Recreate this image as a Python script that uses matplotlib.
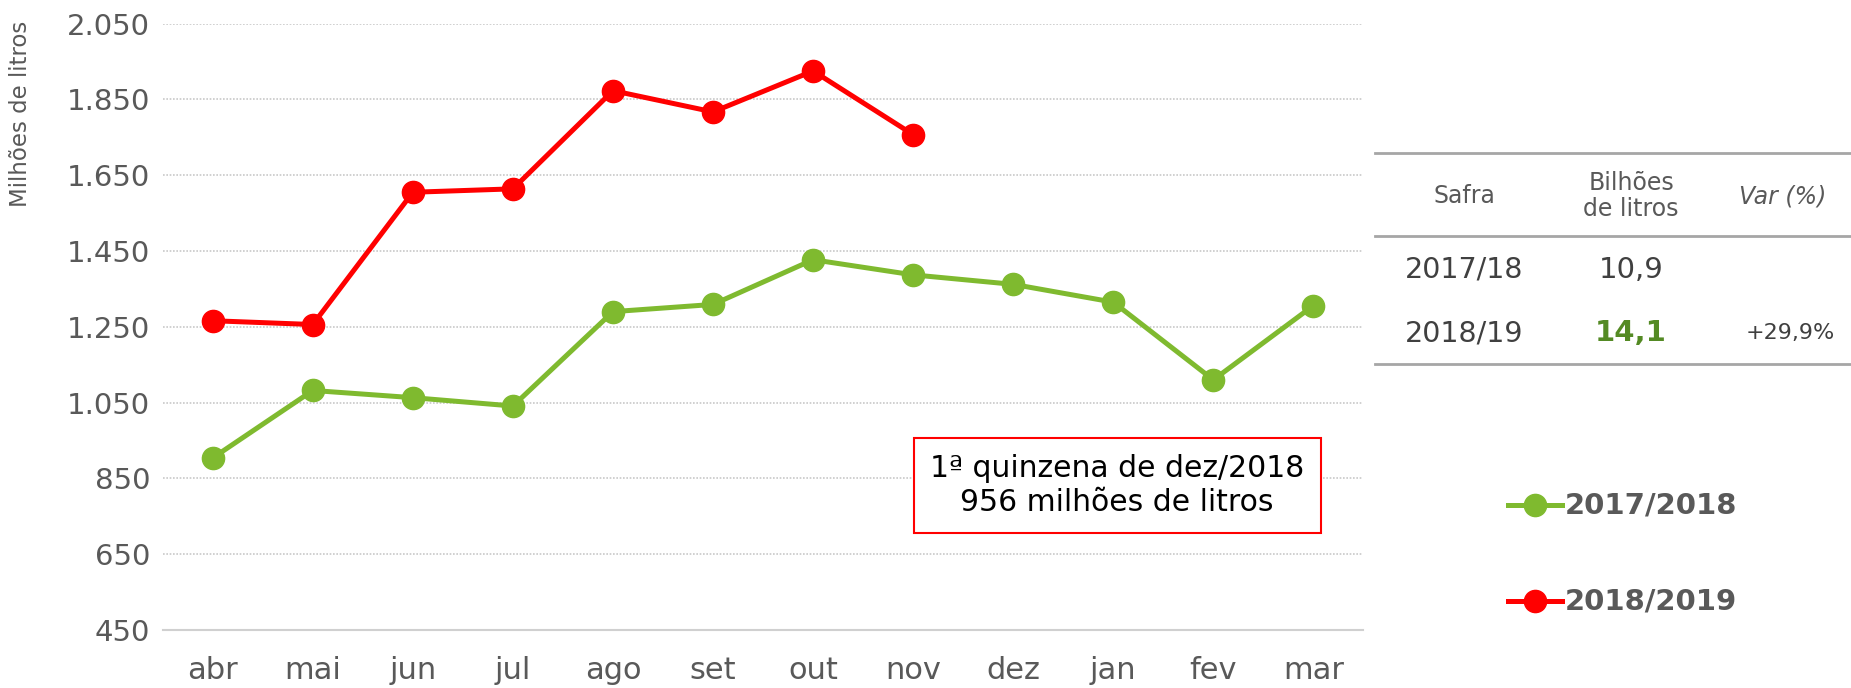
import matplotlib.pyplot as plt
from matplotlib.lines import Line2D

# Monthly production (millions of litres)
months = ['abr', 'mai', 'jun', 'jul', 'ago', 'set', 'out', 'nov', 'dez', 'jan', 'fev', 'mar']
safra_1718 = [904, 1082, 1063, 1041, 1290, 1309, 1427, 1387, 1362, 1315, 1110, 1306]
safra_1819 = [1266, 1256, 1605, 1614, 1873, 1817, 1925, 1757]
yticks = [450, 650, 850, 1050, 1250, 1450, 1650, 1850, 2050]

# Summary table
table_header = ['Safra', 'Bilhões\nde litros', 'Var (%)']
table_safra = ['2017/18', '2018/19']
table_total = ['10,9', '14,1']
table_var = ['', '+29,9%']

GREEN = '#7fba2f'
RED = '#ff0000'
GRAY = '#595959'

plt.rcParams['font.family'] = ['DejaVu Sans']

fig = plt.figure(figsize=(18.51, 6.88), dpi=100)
ax = fig.add_axes([0.0879, 0.0843, 0.6487, 0.8814])

x = range(len(months))
ax.plot(x, safra_1718, color=GREEN, lw=3.6, marker='o', ms=16, label='2017/2018')
ax.plot(range(len(safra_1819)), safra_1819, color=RED, lw=3.6, marker='o', ms=16, label='2018/2019')

ax.set_xlim(-0.5, len(months) - 0.5)
ax.set_ylim(450, 2050)
ax.set_yticks(yticks)
ax.set_yticklabels([f'{v:,}'.replace(',', '.') for v in yticks])
ax.set_xticks(list(x))
ax.set_xticklabels(months)
ax.tick_params(axis='both', length=0, labelsize=21, labelcolor=GRAY)
ax.tick_params(axis='y', pad=9)
ax.tick_params(axis='x', labelsize=22, pad=19)
for v in yticks[1:]:
    ax.axhline(v, color='#c8c8c8', lw=1.2, ls=(0, (1, 1)), zorder=0)
for s in ['top', 'right', 'left']:
    ax.spines[s].set_visible(False)
ax.spines['bottom'].set_color('#d0d0d0')
ax.spines['bottom'].set_linewidth(1.5)

fig.text(0.0113, 0.834, 'Milhões de litros', rotation=90, ha='center', va='center',
         fontsize=16.5, color=GRAY)

# Annotation box
fig.text(0.6035, 0.294, '1ª quinzena de dez/2018\n956 milhões de litros', ha='center', va='center',
         fontsize=21.5, color='black', linespacing=1.2,
         bbox=dict(boxstyle='square,pad=0.55', fc='white', ec=RED, lw=1.5))

# Summary table
W, H = 1851, 688
for yl in [153, 236, 364]:
    fig.add_artist(Line2D([1375 / W, 1], [1 - yl / H, 1 - yl / H], color='#a6a6a6', lw=2))
col_x = [1464 / W, 1631 / W, 1783 / W]
head_y = 1 - 196 / H
fig.text(col_x[0], head_y, table_header[0], ha='center', va='center', fontsize=17, color=GRAY)
fig.text(col_x[1], head_y, table_header[1], ha='center', va='center', fontsize=17, color=GRAY,
         linespacing=1.15)
fig.text(col_x[2], head_y, table_header[2], ha='center', va='center', fontsize=17, color=GRAY,
         style='italic')
for i, ry in enumerate([270, 333]):
    yy = 1 - ry / H
    fig.text(col_x[0], yy, table_safra[i], ha='center', va='center', fontsize=20.5, color='#404040')
    if i == 1:
        fig.text(col_x[1], yy, table_total[i], ha='center', va='center', fontsize=21,
                 color='#548a24', fontweight='bold')
    else:
        fig.text(col_x[1], yy, table_total[i], ha='center', va='center', fontsize=21, color='#404040')
    fig.text(1790 / W, yy, table_var[i], ha='center', va='center', fontsize=16, color='#404040')

# Legend
for lbl, col, ly in [('2017/2018', GREEN, 505), ('2018/2019', RED, 601)]:
    yy = 1 - ly / H
    fig.add_artist(Line2D([1508 / W, 1562 / W], [yy, yy], color=col, lw=3.6))
    fig.add_artist(Line2D([1535 / W], [yy], color=col, marker='o', ms=16))
    fig.text(1565 / W, yy, lbl, ha='left', va='center', fontsize=21, fontweight='bold', color=GRAY)

fig.savefig('out.png', dpi=100)
